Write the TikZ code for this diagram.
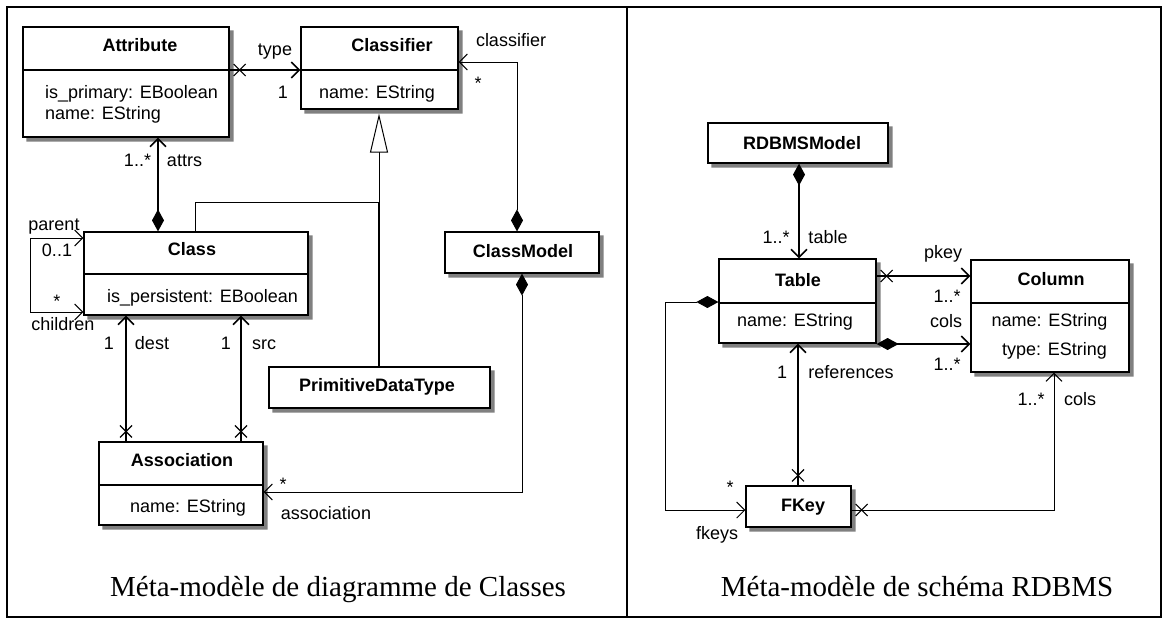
\documentclass[tikz,border=0pt]{standalone}
\usepackage{fontspec}
\setmainfont{Liberation Serif}
\setsansfont{Liberation Sans}
\usetikzlibrary{arrows.meta,decorations.markings,calc}

\begin{document}
\begin{tikzpicture}[x=1pt,y=-1pt,
    >={Straight Barb[length=8pt,width=16pt]},
    cls/.style={draw,fill=white,line width=1.2pt,inner sep=0pt},
    boxshadow/.style={fill=black!50},
    sep/.style={line width=1.8pt},
    title/.style={font=\fontsize{18}{21}\selectfont\sffamily\bfseries,text height=13pt,text depth=0pt,inner sep=0pt},
    attr/.style={font=\fontsize{18}{21}\selectfont\sffamily,text height=13pt,text depth=0pt,inner sep=0pt},
    lab/.style={font=\fontsize{18}{21}\selectfont\sffamily,text height=13pt,text depth=0pt,inner sep=0pt},
    caption/.style={font=\fontsize{29}{32}\selectfont,text height=19pt,text depth=0pt,inner sep=0pt},
    link/.style={line width=1.6pt},
    thinlink/.style={line width=1pt},
    dia/.style={{Diamond[length=22pt,width=12pt]}->},
    xs/.style={postaction={decorate,decoration={markings,
        mark=at position 10pt with {\draw[line width=1.2pt,-] (-6pt,-6pt) -- (6pt,6pt) (-6pt,6pt) -- (6pt,-6pt);}}}}]
    \useasboundingbox (0,0) rectangle (1169,624);

    % class diagram meta-model
    \node[cls,minimum width=206pt,minimum height=110pt] (attribute) at (126,82) {};
    \node[cls,minimum width=157pt,minimum height=82pt] (classifier) at (379.5,68) {};
    \node[cls,minimum width=224pt,minimum height=83pt] (class) at (196,273.5) {};
    \node[cls,minimum width=154pt,minimum height=41pt] (classmodel) at (522,252.5) {};
    \node[cls,minimum width=221pt,minimum height=41pt] (primitive) at (379.5,387.5) {};
    \node[cls,minimum width=164pt,minimum height=83pt] (association) at (181,483.5) {};
    % RDBMS schema meta-model
    \node[cls,minimum width=180pt,minimum height=40pt] (rdbms) at (798,143) {};
    \node[cls,minimum width=157pt,minimum height=84pt] (table) at (797.5,301) {};
    \node[cls,minimum width=158pt,minimum height=112pt] (column) at (1050,316) {};
    \node[cls,minimum width=105pt,minimum height=41pt] (fkey) at (798.5,506.5) {};

    % box shadows, right and bottom bands
    \foreach \cname in {attribute,classifier,class,classmodel,primitive,association,rdbms,table,column,fkey}
        \fill[boxshadow] ($(\cname.north east)+(0.6,4)$) rectangle ($(\cname.south east)+(4,4)$)
                         ($(\cname.south west)+(4,0.6)$) rectangle ($(\cname.south east)+(4,4)$);

    \draw[sep] (attribute.west |- 0,70) -- (attribute.east |- 0,70);
    \node[title] (attribute-t) at (140,45) {Attribute};
    \node[attr,anchor=west] (attribute-a1) at (45,91.5) {is\_primary: EBoolean};
    \node[attr,anchor=west] (attribute-a2) at (45,113) {name: EString};

    \draw[sep] (classifier.west |- 0,70) -- (classifier.east |- 0,70);
    \node[title] (classifier-t) at (392,45) {Classifier};
    \node[attr,anchor=west] (classifier-a1) at (319,91.5) {name: EString};

    \draw[sep] (class.west |- 0,274) -- (class.east |- 0,274);
    \node[title] (class-t) at (192,249) {Class};
    \node[attr,anchor=west] (class-a1) at (107,296) {is\_persistent: EBoolean};

    \node[title] (classmodel-t) at (523,251) {ClassModel};

    \node[title] (primitive-t) at (377,385) {PrimitiveDataType};

    \draw[sep] (association.west |- 0,485) -- (association.east |- 0,485);
    \node[title] (association-t) at (182,460) {Association};
    \node[attr,anchor=west] (association-a1) at (130,506) {name: EString};

    \draw[link,xs,->] (attribute.east |- 0,70) -- (classifier.west |- 0,70);
    \node[lab] (type-l) at (275,49) {type};
    \node[lab] (type-m) at (283,92) {1};

    \draw[thinlink,dia] (517,0 |- classmodel.north) |- (classifier.east |- 0,62);
    \node[lab] (classifier-l) at (511,40) {classifier};
    \node[lab] (classifier-m) at (478,83) {*};

    \draw[thinlink] (195,0 |- class.north) |- (379,202);
    \draw[link] (379,0 |- primitive.north) -- (379,202);
    \draw[thinlink,-{Triangle[open,length=39pt,width=18pt,fill=white]},shorten >=4pt] (379,202) -- (379,0 |- classifier.south);

    \draw[link,dia] (158,0 |- class.north) -- (158,0 |- attribute.south);
    \node[lab] (attrs-m) at (137.5,160) {1..*};
    \node[lab] (attrs-l) at (184.5,160) {attrs};

    \draw[thinlink,<->] (class.west |- 0,238) -| (30,312) -- (class.west |- 0,312);
    \node[lab] (parent-l) at (54,224) {parent};
    \node[lab] (parent-m) at (57,250) {0..1};
    \node[lab] (children-m) at (57,301) {*};
    \node[lab] (children-l) at (63,324) {children};

    \draw[link,xs,->] (126,0 |- association.north) -- (126,0 |- class.south);
    \node[lab] (dest-m) at (109,343) {1};
    \node[lab] (dest-l) at (152,343) {dest};
    \draw[link,xs,->] (241,0 |- association.north) -- (241,0 |- class.south);
    \node[lab] (src-m) at (226,343) {1};
    \node[lab] (src-l) at (264,343) {src};

    \draw[thinlink,dia] (522,0 |- classmodel.south) |- (association.east |- 0,492);
    \node[lab] (assoc-m) at (283,484) {*};
    \node[lab] (assoc-l) at (326,513) {association};

    \node[title] (rdbms-t) at (802,142.5) {RDBMSModel};

    \draw[sep] (table.west |- 0,303) -- (table.east |- 0,303);
    \node[title] (table-t) at (798,279.5) {Table};
    \node[attr] (table-a1) at (795,320) {name: EString};

    \draw[sep] (column.west |- 0,303) -- (column.east |- 0,303);
    \node[title] (column-t) at (1051,278.5) {Column};
    \node[attr] (column-a1) at (1049.5,320) {name: EString};
    \node[attr] (column-a2) at (1054.5,348.5) {type: EString};

    \node[title] (fkey-t) at (803,505) {FKey};

    \draw[link,dia] (799,0 |- rdbms.south) -- (799,0 |- table.north);
    \node[lab] (table-m) at (776,237) {1..*};
    \node[lab] (table-l) at (828,237) {table};

    \draw[link,xs,->] (table.east |- 0,276) -- (column.west |- 0,276);
    \node[lab] (pkey-l) at (943,252) {pkey};
    \node[lab] (pkey-m) at (947,296) {1..*};

    \draw[link,dia] (table.east |- 0,344) -- (column.west |- 0,344);
    \node[lab] (cols-l) at (946,321) {cols};
    \node[lab] (cols-m) at (947,364) {1..*};

    \draw[link,xs,->] (798,0 |- fkey.north) -- (798,0 |- table.south);
    \node[lab] (ref-m) at (782,372) {1};
    \node[lab] (ref-l) at (851,372) {references};

    \draw[thinlink,dia] (table.west |- 0,302) -| (665,510) -- (fkey.west |- 0,510);
    \node[lab] (fkeys-m) at (730,487) {*};
    \node[lab] (fkeys-l) at (717,533) {fkeys};

    \draw[thinlink,xs,->] (fkey.east |- 0,510) -| (1054,0 |- column.south);
    \node[lab] (fcols-m) at (1031,399) {1..*};
    \node[lab] (fcols-l) at (1080,399) {cols};

    \node[caption] (leftcaption) at (338,587) {Méta-modèle de diagramme de Classes};
    \node[caption] (rightcaption) at (917,587) {Méta-modèle de schéma RDBMS};

    \draw[line width=2pt] (7,7) rectangle (1161,617);
    \draw[line width=2pt] (627,7) -- (627,617);
\end{tikzpicture}
\end{document}
